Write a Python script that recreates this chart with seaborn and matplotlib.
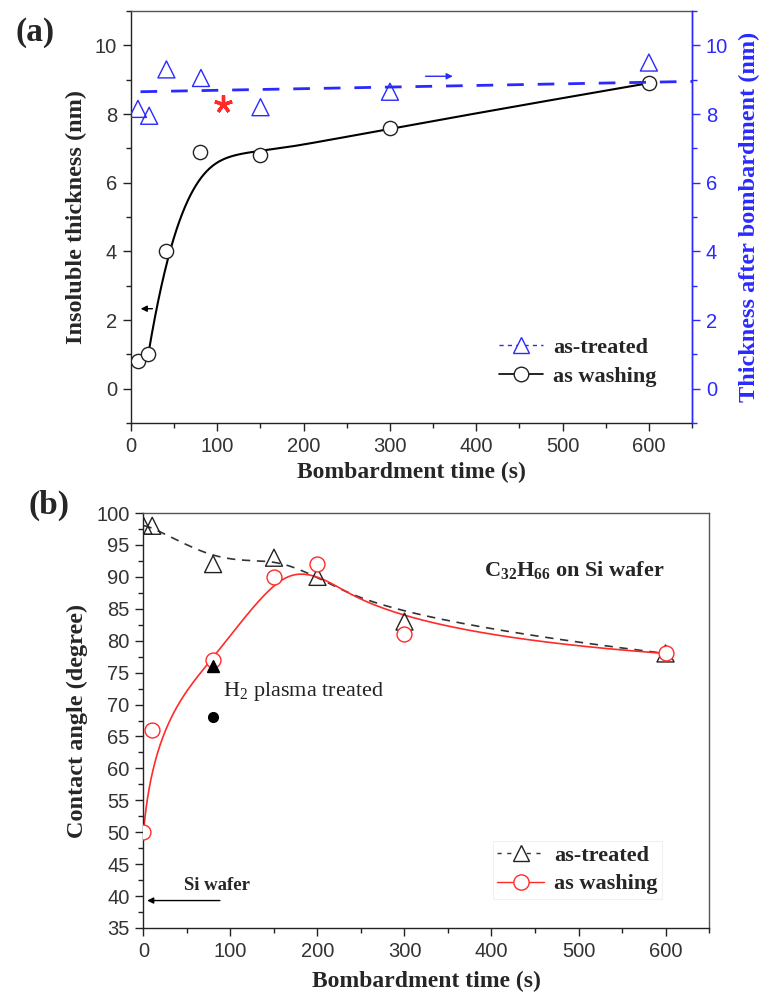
import numpy as np
import pandas as pd
import matplotlib
matplotlib.use("Agg")
import matplotlib.pyplot as plt
import seaborn as sns
from matplotlib.lines import Line2D
from matplotlib.ticker import MultipleLocator

# ---- Panel (a): thickness versus bombardment time ----
time_washed_a = [8, 20, 40, 80, 150, 300, 600]
insoluble_nm = [0.8, 1.0, 4.0, 6.9, 6.8, 7.6, 8.9]
time_treated_a = [8, 21, 41, 81, 150, 300, 600]
treated_nm = [8.15, 7.95, 9.3, 9.05, 8.2, 8.65, 9.5]
guide_time = [11, 650]
guide_nm = [8.65, 8.95]
star_time = [107]
star_nm = [8.3]

# ---- Panel (b): contact angle versus bombardment time ----
time_b = [0, 10, 80, 150, 200, 300, 600]
angle_treated = [98, 98, 92, 93, 90, 83, 78]
angle_washed = [50, 66, 77, 90, 92, 81, 78]
h2_time = [80, 80]
h2_angle = [76, 68]

SERIF = ["Liberation Serif", "DejaVu Serif"]
SANS = ["Liberation Sans", "DejaVu Sans"]
BLUE = "#2a2aff"
RED = "#ff2a2a"
TICK_COLOR = "#333333"
LABEL_SIZE = 17.5
TICK_SIZE = 14.5
LEGEND_SIZE = 16

sns.set_theme(style="ticks")
plt.rcParams["font.family"] = SANS
plt.rcParams["axes.linewidth"] = 1.0
plt.rcParams["mathtext.fontset"] = "custom"
plt.rcParams["mathtext.rm"] = "Liberation Serif"
plt.rcParams["mathtext.bf"] = "Liberation Serif:bold"
plt.rcParams["mathtext.it"] = "Liberation Serif:italic"


def bspline_curve(xs, ys, degree=3, num=500):
    """Clamped uniform B-spline using the data points as control points."""
    P = np.column_stack([xs, ys]).astype(float)
    n = len(P)
    k = min(degree, n - 1)
    knots = np.concatenate([np.zeros(k), np.linspace(0, 1, n - k + 1), np.ones(k)])
    t = np.linspace(0, 1, num)
    m = len(knots) - 1
    B = np.zeros((num, m))
    for i in range(m):
        B[:, i] = (knots[i] <= t) & (t < knots[i + 1])
    B[t >= 1.0, n - 1] = 1.0
    for d in range(1, k + 1):
        nb = np.zeros((num, m - d))
        for i in range(m - d):
            den1 = knots[i + d] - knots[i]
            den2 = knots[i + d + 1] - knots[i + 1]
            term = np.zeros(num)
            if den1 > 0:
                term += (t - knots[i]) / den1 * B[:, i]
            if den2 > 0:
                term += (knots[i + d + 1] - t) / den2 * B[:, i + 1]
            nb[:, i] = term
        B = nb
    curve = B @ P
    return curve[:, 0], curve[:, 1]


def style_axis(ax, xlabel, ylabel, ymaj, ymin):
    ax.set_xlim(0, 650)
    ax.xaxis.set_major_locator(MultipleLocator(100))
    ax.xaxis.set_minor_locator(MultipleLocator(50))
    ax.yaxis.set_major_locator(MultipleLocator(ymaj))
    ax.yaxis.set_minor_locator(MultipleLocator(ymin))
    ax.tick_params(axis="both", which="major", direction="out", length=6, width=1,
                   labelsize=TICK_SIZE, labelcolor=TICK_COLOR, color="#222222",
                   top=False, right=False, pad=4)
    ax.tick_params(axis="both", which="minor", direction="out", length=3.5, width=1,
                   color="#222222", top=False, right=False)
    ax.set_xlabel(xlabel, fontfamily=SERIF, fontweight="bold", fontsize=LABEL_SIZE - 0.5,
                  labelpad=4)
    ax.set_ylabel(ylabel, fontfamily=SERIF, fontweight="bold", fontsize=LABEL_SIZE,
                  labelpad=6)
    for side in ["top", "right", "left", "bottom"]:
        ax.spines[side].set_visible(True)
        ax.spines[side].set_color("#222222")
    ax.spines["top"].set_color("#555555")


fig = plt.figure(figsize=(7.6, 9.94), dpi=100)

# ================= Panel (a) =================
axA = fig.add_axes([0.1724, 0.5744, 0.7382, 0.4145])
axA.set_ylim(-1, 11)
style_axis(axA, "Bombardment time (s)", "Insoluble thickness (nm)", 2, 1)

df_wash_a = pd.DataFrame({"time": time_washed_a, "thick": insoluble_nm})
cx, cy = bspline_curve(time_washed_a[1:], insoluble_nm[1:])
sns.lineplot(x=cx, y=cy, ax=axA, color="black", lw=1.5, sort=False, zorder=2)
sns.scatterplot(data=df_wash_a, x="time", y="thick", ax=axA, marker="o", s=105,
                facecolor="white", edgecolor="#222222", linewidth=1.0, zorder=3)

axB = axA.twinx()
axB.set_ylim(-1, 11)
axB.yaxis.set_major_locator(MultipleLocator(2))
axB.yaxis.set_minor_locator(MultipleLocator(1))
axB.tick_params(axis="y", which="major", direction="out", length=6, width=1,
                labelsize=TICK_SIZE, colors=BLUE, pad=4)
axB.tick_params(axis="y", which="minor", direction="out", length=3.5, width=1, colors=BLUE)
axB.spines["right"].set_color(BLUE)
axB.spines["top"].set_visible(False)
axB.spines["left"].set_visible(False)
axB.spines["bottom"].set_visible(False)
axB.set_ylabel("Thickness after bombardment (nm)", fontfamily=SERIF, fontweight="bold",
               fontsize=LABEL_SIZE, color=BLUE, labelpad=8)

df_treat_a = pd.DataFrame({"time": time_treated_a, "thick": treated_nm})
sns.lineplot(x=guide_time, y=guide_nm, ax=axB, color=BLUE, lw=2.0,
             zorder=2).lines[-1].set_dashes([6, 5])
sns.scatterplot(data=df_treat_a, x="time", y="thick", ax=axB, marker="^", s=150,
                facecolor="none", edgecolor=BLUE, linewidth=1.0, zorder=3)
axB.plot(star_time, star_nm, marker=(5, 2, 0), color=RED, ms=13, mew=2.4, ls="none")
axB.set_xlim(0, 650)

# direction arrows
axA.annotate("", xy=(8, 2.33), xytext=(28, 2.33),
             arrowprops=dict(arrowstyle="-|>", color="black", lw=1.0,
                             mutation_scale=9))
axB.annotate("", xy=(376, 9.1), xytext=(338, 9.1),
             arrowprops=dict(arrowstyle="-|>", color=BLUE, lw=1.0,
                             mutation_scale=9))

handles_a = [
    Line2D([], [], color=BLUE, lw=1.0, ls=(0, (3, 3)), marker="^", ms=11,
           mfc="white", mec=BLUE, mew=1.0),
    Line2D([], [], color="black", lw=1.2, marker="o", ms=10.5, mfc="white",
           mec="#222222", mew=1.0),
]
axB.legend(handles_a, ["as-treated", "as washing"], loc="center left",
           bbox_to_anchor=(0.628, 0.148), frameon=False,
           prop=dict(family=SERIF, weight="bold", size=LEGEND_SIZE), handlelength=2.0,
           handletextpad=0.45, labelspacing=0.4, borderpad=0.2)

fig.text(0.021, 0.967, "(a)", fontfamily=SERIF, fontweight="bold", fontsize=24,
         ha="left", va="center")

# ================= Panel (b) =================
axC = fig.add_axes([0.1888, 0.0664, 0.7441, 0.4175])
axC.set_ylim(35, 100)
style_axis(axC, "Bombardment time (s)", "Contact angle (degree)", 5, 2.5)
axC.spines["top"].set_color("#555555")
axC.spines["right"].set_color("#555555")

tx, ty = bspline_curve(time_b, angle_treated)
sns.lineplot(x=tx, y=ty, ax=axC, color="#333333", lw=1.2, sort=False,
             zorder=2).lines[-1].set_dashes([5, 4])
wx, wy = bspline_curve(time_b, angle_washed)
sns.lineplot(x=wx, y=wy, ax=axC, color=RED, lw=1.2, sort=False, zorder=2)

df_b = pd.DataFrame({"time": time_b, "treated": angle_treated, "washed": angle_washed})
sns.scatterplot(data=df_b, x="time", y="treated", ax=axC, marker="^", s=150,
                facecolor="none", edgecolor="#222222", linewidth=1.0, zorder=3)
sns.scatterplot(data=df_b, x="time", y="washed", ax=axC, marker="o", s=115,
                facecolor="white", edgecolor=RED, linewidth=1.0, zorder=4)
axC.plot(h2_time[:1], h2_angle[:1], marker="^", color="black", ms=8, ls="none", zorder=5)
axC.plot(h2_time[1:], h2_angle[1:], marker="o", color="black", ms=7, ls="none", zorder=5)
axC.set_xlabel("Bombardment time (s)", fontfamily=SERIF, fontweight="bold",
               fontsize=LABEL_SIZE - 0.5, labelpad=7)
axC.set_ylabel("Contact angle (degree)", fontfamily=SERIF, fontweight="bold",
               fontsize=LABEL_SIZE)

axC.text(91, 72, "H$_2$ plasma treated", fontfamily=SERIF, fontsize=16,
         color="#222222", va="center")
axC.text(0.602, 0.863, r"C$_\mathbf{32}$H$_\mathbf{66}$ on Si wafer",
         transform=axC.transAxes, fontfamily=SERIF, fontweight="bold",
         fontsize=16, va="center")
axC.text(46, 41.6, "Si wafer", fontfamily=SERIF, fontweight="bold", fontsize=13.5,
         va="center")
axC.annotate("", xy=(1, 39.3), xytext=(91, 39.3),
             arrowprops=dict(arrowstyle="-|>", color="black", lw=1.0,
                             mutation_scale=9))

handles_b = [
    Line2D([], [], color="#333333", lw=1.0, ls=(0, (3, 4)), marker="^", ms=11,
           mfc="white", mec="#222222", mew=1.0),
    Line2D([], [], color=RED, lw=1.0, marker="o", ms=11, mfc="white",
           mec=RED, mew=1.0),
]
leg = axC.legend(handles_b, ["as-treated", "as washing"], loc="center left",
                 bbox_to_anchor=(0.598, 0.14), frameon=True, fancybox=False,
                 prop=dict(family=SERIF, weight="bold", size=LEGEND_SIZE),
                 handlelength=2.1, handletextpad=0.45, labelspacing=0.35, borderpad=0.2)
leg.get_frame().set_edgecolor("#eeeeee")
leg.get_frame().set_linewidth(0.8)

fig.text(0.038, 0.492, "(b)", fontfamily=SERIF, fontweight="bold", fontsize=24,
         ha="left", va="center")

fig.savefig("out.png", dpi=100, facecolor="white")
